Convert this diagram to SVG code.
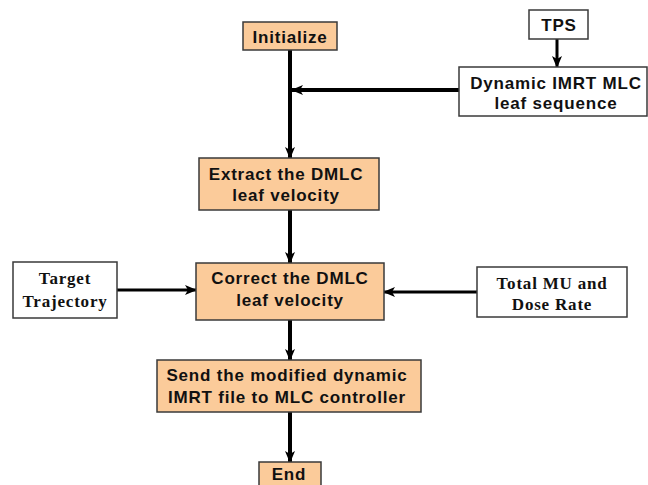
<svg xmlns="http://www.w3.org/2000/svg" width="648" height="485" viewBox="0 0 648 485">
<style>
.o{fill:#FBCB9A;stroke:#3a3a3a;stroke-width:1.5}
.w{fill:#fff;stroke:#3a3a3a;stroke-width:1.5}
.a{font-family:"Liberation Sans",Arial,sans-serif;font-weight:bold;font-size:17px;letter-spacing:0.8px;fill:#111;text-anchor:middle}
.t{font-family:"Liberation Serif","Times New Roman",serif;font-weight:bold;font-size:17px;letter-spacing:0.8px;fill:#111;text-anchor:middle}
.c{stroke:#000;stroke-width:4;fill:none;marker-end:url(#ah)}
.c3{stroke:#000;stroke-width:3;fill:none;marker-end:url(#ah)}
</style>
<defs>
<marker id="ah" markerUnits="userSpaceOnUse" viewBox="0 0 12 12" refX="11" refY="6" markerWidth="12" markerHeight="12" orient="auto">
<path d="M0,1 L12,6 L0,11 L3,6 Z" fill="#000"/>
</marker>
</defs>
<g id="connectors">
<line class="c" x1="290" y1="50" x2="290" y2="158"/>
<line class="c3" x1="557" y1="39" x2="557" y2="67"/>
<line class="c" x1="459" y1="90" x2="292" y2="90"/>
<line class="c" x1="290" y1="210" x2="290" y2="263"/>
<line class="c3" x1="117" y1="290" x2="196" y2="290"/>
<line class="c3" x1="477" y1="292" x2="384" y2="292"/>
<line class="c" x1="290" y1="320" x2="290" y2="360"/>
<line class="c" x1="290" y1="412" x2="290" y2="462"/>
</g>
<g id="initialize">
<rect class="o" x="243" y="22" width="94" height="28"/>
<text class="a" x="290" y="43">Initialize</text>
</g>
<g id="tps">
<rect class="w" x="529" y="10" width="59" height="29"/>
<text class="a" x="559" y="31">TPS</text>
</g>
<g id="dynamic">
<rect class="w" x="459" y="67" width="188" height="49"/>
<text class="a" x="556" y="89">Dynamic IMRT MLC</text>
<text class="a" x="556" y="109">leaf sequence</text>
</g>
<g id="extract">
<rect class="o" x="199" y="158" width="180" height="52"/>
<text class="a" x="286" y="180">Extract the DMLC</text>
<text class="a" x="286" y="201">leaf velocity</text>
</g>
<g id="target">
<rect class="w" x="13" y="262" width="104" height="56"/>
<text class="t" x="65" y="284">Target</text>
<text class="t" x="65" y="307">Trajectory</text>
</g>
<g id="correct">
<rect class="o" x="196" y="263" width="188" height="57"/>
<text class="a" x="290" y="284">Correct the DMLC</text>
<text class="a" x="290" y="306">leaf velocity</text>
</g>
<g id="total">
<rect class="w" x="477" y="267" width="150" height="50"/>
<text class="t" x="552" y="289">Total MU and</text>
<text class="t" x="552" y="310">Dose Rate</text>
</g>
<g id="send">
<rect class="o" x="157" y="360" width="264" height="52"/>
<text class="a" x="287" y="381">Send the modified dynamic</text>
<text class="a" x="287" y="403">IMRT file to MLC controller</text>
</g>
<g id="end">
<rect class="o" x="259" y="462" width="62" height="30"/>
<text class="a" x="289" y="480">End</text>
</g>
</svg>
